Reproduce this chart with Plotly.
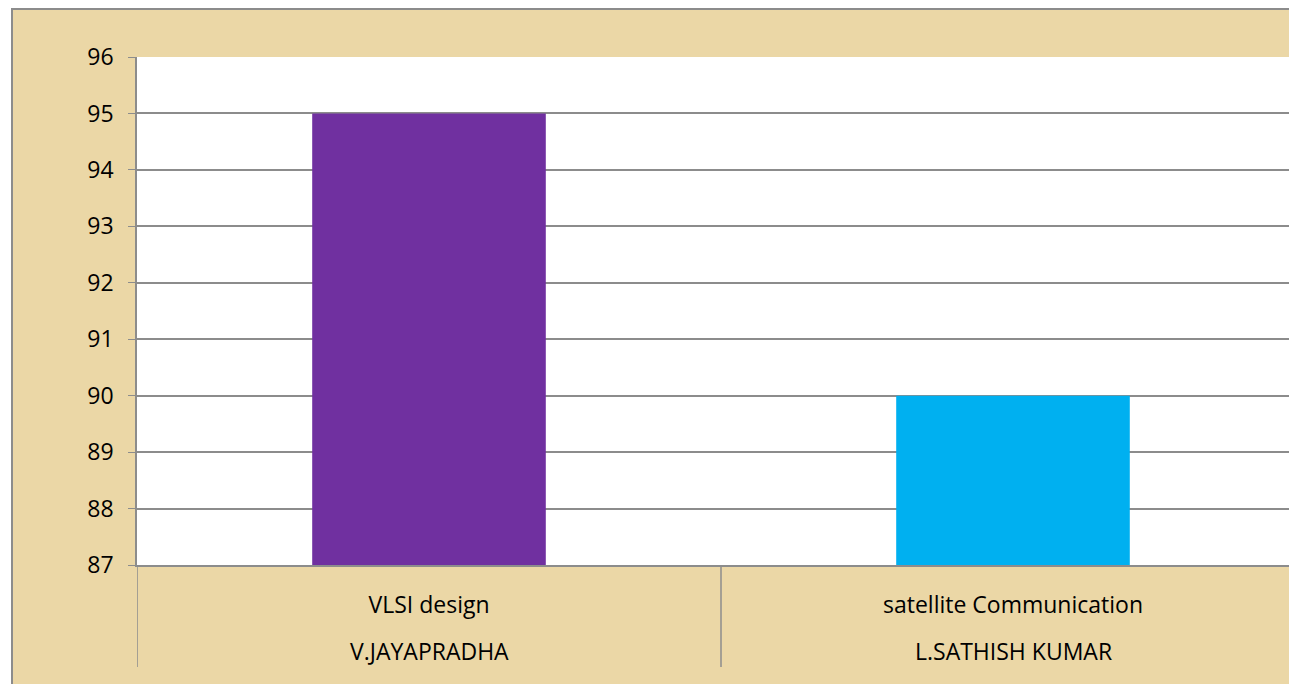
import plotly.graph_objects as go

faculty = ["V.JAYAPRADHA", "L.SATHISH KUMAR"]
subjects = ["VLSI design", "satellite Communication"]
scores = [95, 90]
bar_colors = ["#7030A0", "#00B0F0"]
y_ticks = [87, 88, 89, 90, 91, 92, 93, 94, 95, 96]

W, H = 1289, 684
left, top, bottom = 137, 57, 119
pw = W - left
ph = H - top - bottom
plot_bottom = H - bottom
cat_px = 584  # width of one category in pixels (chart runs past the right edge)

fig = go.Figure(go.Bar(
    x=subjects,
    y=scores,
    marker_color=bar_colors,
    marker_line_width=0,
    width=0.4,
))

# papyrus-like frame behind the whole chart
fig.add_shape(type="rect", xref="paper", yref="paper", layer="below",
              x0=(12 - left) / pw, x1=1.05,
              y0=-(bottom + 30) / ph, y1=(plot_bottom - 9) / ph,
              fillcolor="#EBD7A6", line=dict(color="#8C8C8C", width=2))
fig.add_shape(type="rect", xref="paper", yref="paper", layer="below",
              x0=0, x1=1, y0=0, y1=1, fillcolor="white", line_width=0)

# category dividers running through both label rows
for b in [-0.5, 0.5, 1.5]:
    fig.add_shape(type="line", xref="x", yref="paper", x0=b, x1=b,
                  y0=0, y1=-102 / ph, line=dict(color="#8C8C8C", width=1.5))

for i, name in enumerate(faculty):
    fig.add_annotation(x=subjects[i], xref="x", yref="paper", y=-86 / ph,
                       text=name, showarrow=False, yanchor="middle",
                       font=dict(size=23, color="black"))

fig.update_yaxes(range=[87, 96], tickvals=y_ticks, showgrid=True,
                 gridcolor="#8C8C8C", gridwidth=1.5, showline=True,
                 linecolor="#8C8C8C", linewidth=1.5, ticks="outside",
                 ticklen=7, tickcolor="#8C8C8C", ticklabelstandoff=10,
                 tickfont=dict(size=23, color="black"), zeroline=False)
fig.update_xaxes(type="category", range=[-0.5, -0.5 + pw / cat_px],
                 showline=True, linecolor="#8C8C8C", linewidth=1.5,
                 ticks="", ticklabelstandoff=19,
                 tickfont=dict(size=23, color="black"), showgrid=False)
fig.update_layout(width=W, height=H, margin=dict(l=left, r=0, t=top, b=bottom),
                  paper_bgcolor="white", plot_bgcolor="white",
                  font=dict(family="Open Sans"), showlegend=False, bargap=0.6)
fig.write_html("out.html", config={"displayModeBar": False},
               post_script="document.body.style.margin='0';document.body.style.overflow='hidden';")
